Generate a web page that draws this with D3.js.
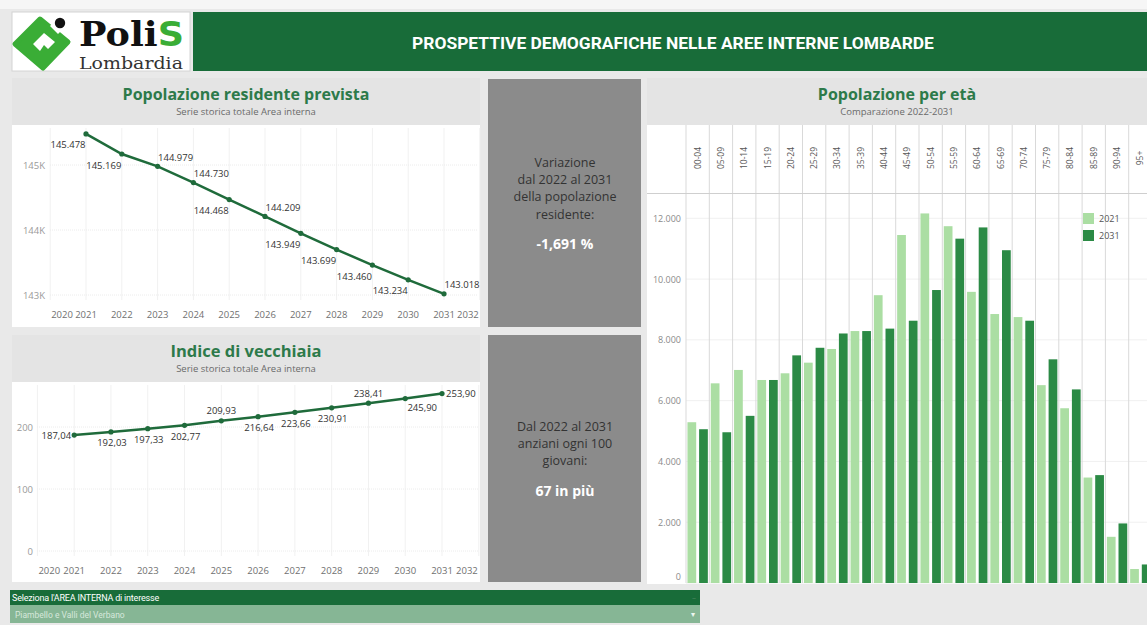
<!DOCTYPE html>
<html><head><meta charset="utf-8">
<script src="https://cdn.jsdelivr.net/npm/d3@7"></script>
<style>
body{margin:0;background:#e9e9e9;overflow:hidden;}
svg{display:block;font-family:"Open Sans",sans-serif;}
</style></head><body>
<svg id="c" width="1147" height="625"></svg>
<script>
// ---------- DATA ----------
const years = [2021,2022,2023,2024,2025,2026,2027,2028,2029,2030,2031];
const xTickYears = [2020,2021,2022,2023,2024,2025,2026,2027,2028,2029,2030,2031,2032];
const popValues = [145478,145169,144979,144730,144468,144209,143949,143699,143460,143234,143018];
const popLabelSide = ["bl","bl","ar","ar","bl","ar","bl","bl","bl","bl","ar"];
const popTicks = [143000,144000,145000];
const oldIndex = [187.04,192.03,197.33,202.77,209.93,216.64,223.66,230.91,238.41,245.90,253.90];
const oldLabelSide = ["l","b","b","b","a","b","b","b","a","br","r"];
const oldTicks = [0,100,200];
const ageGroups = ["00-04","05-09","10-14","15-19","20-24","25-29","30-34","35-39","40-44","45-49","50-54","55-59","60-64","65-69","70-74","75-79","80-84","85-89","90-94","95+"];
const seriesNames = ["2021","2031"];
const pop2021 = [5290,6570,7010,6680,6900,7250,7700,8290,9470,11450,12160,11740,9580,8850,8750,6510,5750,3470,1520,460];
const pop2031 = [5060,4960,5500,6680,7490,7740,8210,8290,8370,8630,9640,11330,11700,10950,8630,7360,6370,3550,1960,610];
const ageTicks = [0,2000,4000,6000,8000,10000,12000];

// ---------- SETUP ----------
const it = d3.formatLocale({decimal:",",thousands:".",grouping:[3],currency:["€",""]});
const fmtInt = it.format(",d");
const fmt2 = it.format(".2f");
const svg = d3.select("#c");
const GREEN_BANNER = "#186c39", LINE_GREEN = "#1f6b3b", TITLE_GREEN = "#2d7a4a";

svg.append("rect").attr("x",0).attr("y",0).attr("width",1147).attr("height",625).attr("fill","#e9e9e9");
svg.append("rect").attr("x",0).attr("y",0).attr("width",1147).attr("height",9).attr("fill","#f6f6f6");

// ---------- HEADER ----------
svg.append("rect").attr("x",12).attr("y",12).attr("width",178).attr("height",59).attr("fill","#fff").attr("stroke","#d4d4d4");
const logo = svg.append("g");
logo.append("path").attr("d","M15,44 L40,19 L68,42 L43,68 Z").attr("fill","#3aad36").attr("stroke","#3aad36").attr("stroke-width",5).attr("stroke-linejoin","round");
logo.append("path").attr("d","M33,44 L44,33 L55,42 L48,49 L44,45 L40,51 Z").attr("fill","#fff");
logo.append("path").attr("d","M50,26 L58,34 L66,26 L58,18 Z").attr("fill","#fff");
logo.append("circle").attr("cx",60).attr("cy",23).attr("r",5.2).attr("fill","#111");
const ps = logo.append("text").attr("x",79).attr("y",46).attr("font-family","DejaVu Serif").attr("font-weight","bold").attr("font-size",34).attr("textLength",105).attr("lengthAdjust","spacingAndGlyphs");
ps.append("tspan").attr("fill","#111").text("Poli");
ps.append("tspan").attr("fill","#3aad36").attr("font-family","DejaVu Sans").text("S");
logo.append("text").attr("x",79).attr("y",69).attr("font-family","DejaVu Serif").attr("font-size",16).attr("fill","#333").attr("textLength",104).attr("lengthAdjust","spacingAndGlyphs").text("Lombardia");

svg.append("rect").attr("x",193).attr("y",12).attr("width",954).attr("height",59).attr("fill",GREEN_BANNER);
svg.append("text").attr("x",673).attr("y",49).attr("text-anchor","middle").attr("font-family","Roboto").attr("font-weight","bold").attr("font-size",17.4).attr("fill","#fff").text("PROSPETTIVE DEMOGRAFICHE NELLE AREE INTERNE LOMBARDE");

// ---------- PANEL HELPERS ----------
function panel(x,y,w,hHead,hPlot,title,sub,tSize){
  svg.append("rect").attr("x",x).attr("y",y).attr("width",w).attr("height",hHead).attr("fill","#e4e4e4");
  svg.append("rect").attr("x",x).attr("y",y+hHead).attr("width",w).attr("height",hPlot).attr("fill","#fff");
  svg.append("text").attr("x",x+w/2).attr("y",y+22).attr("text-anchor","middle").attr("font-weight","bold").attr("font-size",tSize).attr("fill",TITLE_GREEN).text(title);
  svg.append("text").attr("x",x+w/2).attr("y",y+36.5).attr("text-anchor","middle").attr("font-size",9.5).attr("fill","#6a6a6a").text(sub);
}

// ---------- TOP-LEFT: POPOLAZIONE ----------
panel(12,78,468,47,202,"Popolazione residente prevista","Serie storica totale Area interna",16);
{
  const x = d3.scaleLinear().domain([2020,2032]).range([50.2,479.8]);
  const y = d3.scaleLinear().domain([143000,145000]).range([295,165]);
  const g = svg.append("g");
  g.selectAll(".vg").data(xTickYears).join("line").attr("x1",d=>x(d)).attr("x2",d=>x(d)).attr("y1",128).attr("y2",300).attr("stroke","#f1f1f1");
  g.selectAll(".hg").data(popTicks).join("line").attr("x1",50).attr("x2",478).attr("y1",d=>y(d)).attr("y2",d=>y(d)).attr("stroke","#ececec").attr("stroke-dasharray","1,1");
  g.selectAll(".yt").data(popTicks).join("text").attr("x",45).attr("y",d=>y(d)+3.5).attr("text-anchor","end").attr("font-size",9.5).attr("fill","#9a9a9a").text(d=>(d/1000)+"K");
  g.selectAll(".xt").data(xTickYears).join("text").attr("x",(d,i)=> i===0? x(d)+1 : i===xTickYears.length-1 ? x(d)-1 : x(d))
    .attr("y",318).attr("text-anchor",(d,i)=> i===0?"start": i===xTickYears.length-1?"end":"middle")
    .attr("font-size",9.5).attr("fill","#707070").text(d=>d);
  const line = d3.line().x((d,i)=>x(years[i])).y(d=>y(d));
  g.append("path").datum(popValues).attr("d",line).attr("fill","none").attr("stroke",LINE_GREEN).attr("stroke-width",2.5);
  g.selectAll(".pt").data(popValues).join("circle").attr("cx",(d,i)=>x(years[i])).attr("cy",d=>y(d)).attr("r",2.6).attr("fill",LINE_GREEN);
  g.selectAll(".lb").data(popValues).join("text")
    .attr("x",(d,i)=>x(years[i]) + (popLabelSide[i]==="bl"?-18:18))
    .attr("y",(d,i)=>y(d) + (popLabelSide[i]==="bl"?14.5:-5.5))
    .attr("text-anchor","middle").attr("font-size",9.5).attr("fill","#333").text(d=>fmtInt(d));
}

// ---------- BOTTOM-LEFT: INDICE DI VECCHIAIA ----------
panel(12,335,468,47,200,"Indice di vecchiaia","Serie storica totale Area interna",16.5);
{
  const x = d3.scaleLinear().domain([2020,2032]).range([37.4,478.8]);
  const y = d3.scaleLinear().domain([0,200]).range([551,427]);
  const g = svg.append("g");
  g.selectAll(".vg").data(xTickYears).join("line").attr("x1",d=>x(d)).attr("x2",d=>x(d)).attr("y1",385).attr("y2",556).attr("stroke","#f1f1f1");
  g.selectAll(".hg").data(oldTicks).join("line").attr("x1",37).attr("x2",478).attr("y1",d=>y(d)).attr("y2",d=>y(d)).attr("stroke","#ececec").attr("stroke-dasharray","1,1");
  g.selectAll(".yt").data(oldTicks).join("text").attr("x",33).attr("y",d=>y(d)+3.5).attr("text-anchor","end").attr("font-size",9.5).attr("fill","#9a9a9a").text(d=>d);
  g.selectAll(".xt").data(xTickYears).join("text").attr("x",(d,i)=> i===0? x(d)+1 : i===xTickYears.length-1 ? x(d)-1 : x(d))
    .attr("y",574).attr("text-anchor",(d,i)=> i===0?"start": i===xTickYears.length-1?"end":"middle")
    .attr("font-size",9.5).attr("fill","#707070").text(d=>d);
  const line = d3.line().x((d,i)=>x(years[i])).y(d=>y(d));
  g.append("path").datum(oldIndex).attr("d",line).attr("fill","none").attr("stroke",LINE_GREEN).attr("stroke-width",2.5);
  g.selectAll(".pt").data(oldIndex).join("circle").attr("cx",(d,i)=>x(years[i])).attr("cy",d=>y(d)).attr("r",2.6).attr("fill",LINE_GREEN);
  const off = {l:[-3,3.5,"end"], b:[1,14.5,"middle"], a:[0,-6.5,"middle"], br:[17,12.5,"middle"], r:[4,3.5,"start"]};
  g.selectAll(".lb").data(oldIndex).join("text")
    .attr("x",(d,i)=>x(years[i]) + off[oldLabelSide[i]][0])
    .attr("y",(d,i)=>y(d) + off[oldLabelSide[i]][1])
    .attr("text-anchor",(d,i)=>off[oldLabelSide[i]][2]).attr("font-size",9.5).attr("fill","#333").text(d=>fmt2(d));
}

// ---------- MIDDLE KPI BOXES ----------
function kpi(y,h,lines,value,firstY){
  svg.append("rect").attr("x",488).attr("y",y).attr("width",153).attr("height",h).attr("fill","#8b8b8b");
  lines.forEach((t,i)=>svg.append("text").attr("x",565).attr("y",firstY+i*17.4).attr("text-anchor","middle").attr("font-size",12.5).attr("fill","#333").text(t));
  svg.append("text").attr("x",565).attr("y",firstY+(lines.length-1)*17.4+30.5).attr("text-anchor","middle").attr("font-weight","bold").attr("font-size",14).attr("fill","#fff").text(value);
}
kpi(79,248,["Variazione","dal 2022 al 2031","della popolazione","residente:"],"-1,691 %",166.5);
kpi(335,247,["Dal 2022 al 2031","anziani ogni 100","giovani:"],"67 in più",430.5);

// ---------- RIGHT: POPOLAZIONE PER ETÀ ----------
panel(647,78,500,47,459,"Popolazione per età","Comparazione 2022-2031",16);
{
  const x0 = d3.scaleBand().domain(ageGroups).range([686,686+23.3*ageGroups.length]).padding(0);
  const x1 = d3.scaleBand().domain(seriesNames).range([0,x0.bandwidth()]).paddingInner(0.25).paddingOuter(0.125);
  const y = d3.scaleLinear().domain([0,12000]).range([583,218.3]);
  const color = d3.scaleOrdinal().domain(seriesNames).range(["#abdea3","#2b8a45"]);
  const g = svg.append("g");
  g.selectAll(".hg").data(ageTicks).join("line").attr("x1",686).attr("x2",1147).attr("y1",d=>y(d)).attr("y2",d=>y(d)).attr("stroke","#f0f0f0");
  g.selectAll(".vl").data(ageGroups).join("line").attr("x1",d=>x0(d)).attr("x2",d=>x0(d)).attr("y1",125).attr("y2",583).attr("stroke","#d9d9d9");
  g.append("line").attr("x1",647).attr("x2",1147).attr("y1",193.5).attr("y2",193.5).attr("stroke","#cfcfcf");
  g.selectAll(".hl").data(ageGroups).join("text")
    .attr("transform",d=>`translate(${x0(d)+x0.bandwidth()/2+3},158) rotate(-90)`)
    .attr("text-anchor","middle").attr("font-size",8.5).attr("fill","#555").text(d=>d);
  g.selectAll(".yt").data(ageTicks).join("text").attr("x",681).attr("y",d=> d===0 ? y(d)-3 : y(d)+3.5).attr("text-anchor","end").attr("font-size",9).attr("fill","#8a8a8a").text(d=>fmtInt(d));
  const rows = ageGroups.map((a,i)=>({age:a, vals:[{s:"2021",v:pop2021[i]},{s:"2031",v:pop2031[i]}]}));
  g.selectAll(".grp").data(rows).join("g").attr("transform",d=>`translate(${x0(d.age)},0)`)
    .selectAll("rect").data(d=>d.vals).join("rect")
    .attr("x",d=>x1(d.s)).attr("width",x1.bandwidth()).attr("y",d=>y(d.v)).attr("height",d=>y(0)-y(d.v)).attr("fill",d=>color(d.s));
  const lg = g.append("g").attr("transform","translate(1083,213)");
  seriesNames.forEach((s,i)=>{
    lg.append("rect").attr("x",0).attr("y",i*17).attr("width",11).attr("height",11).attr("fill",color(s));
    lg.append("text").attr("x",16).attr("y",i*17+9).attr("font-size",9).attr("fill","#555").text(s);
  });
}

// ---------- BOTTOM FILTER ----------
svg.append("rect").attr("x",10).attr("y",590).attr("width",690).attr("height",15).attr("fill",GREEN_BANNER);
svg.append("text").attr("x",12).attr("y",600.5).attr("font-family","Roboto").attr("font-size",9).attr("fill","#fff").attr("letter-spacing",-0.2).text("Seleziona l'AREA INTERNA di interesse");
svg.append("text").attr("x",692).attr("y",600).attr("font-size",8).attr("fill","#4f8a62").text("–");
svg.append("rect").attr("x",10).attr("y",605).attr("width",690).attr("height",18).attr("fill","#86b695");
svg.append("text").attr("x",15).attr("y",617.5).attr("font-family","Roboto").attr("font-size",8.5).attr("fill","#d6e8dc").text("Piambello e Valli del Verbano");
svg.append("text").attr("x",691).attr("y",617).attr("font-size",8).attr("fill","#eef6f0").text("▾");
</script>
</body></html>
